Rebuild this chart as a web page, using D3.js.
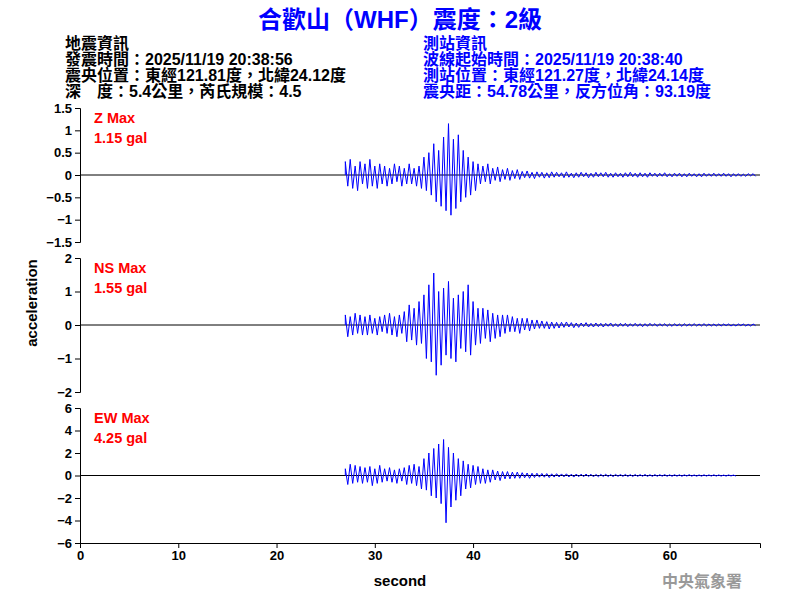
<!DOCTYPE html>
<html><head><meta charset="utf-8">
<script src="https://cdn.jsdelivr.net/npm/d3@7"></script>
<style>body{margin:0;background:#fff}text{font-family:Arial,"Liberation Sans","Noto Sans CJK TC",sans-serif}</style>
</head><body><svg id="c" width="800" height="600"></svg>
<script>
const startTime = 27, step = 0.25;
const zValues = [
.3,-.25,.35,-.3,.2,-.35,.3,-.2, .25,-.3,.35,-.25,.2,-.3,.25,-.2,
.2,-.25,.15,-.2,.25,-.15,.2,-.25, .15,-.2,.25,-.2,.15,-.25,.2,-.3,
.4,-.35,.5,-.45,.7,-.6,.55,-.7, .85,-.8,1.15,-.9,.8,-.75,.9,-.6,
.55,-.5,.4,-.45,.3,-.35,.25,-.2, .2,-.15,.25,-.2,.15,-.12,.18,-.15,
.12,-.1,.15,-.12,.1,-.08,.12,-.1, .08,-.06,.09,-.07,.06,-.08,.07,-.05,
.06,-.07,.05,-.06,.07,-.05,.06,-.04, .05,-.06,.07,-.05,.04,-.06,.05,-.05,
.06,-.04,.05,-.06,.04,-.05,.06,-.04, .05,-.04,.06,-.05,.04,-.05,.05,-.04,
.04,-.05,.05,-.04,.06,-.04,.04,-.05, .05,-.04,.04,-.05,.05,-.03,.04,-.04,
.04,-.03,.05,-.04,.03,-.04,.04,-.03, .04,-.04,.03,-.04,.04,-.03,.03,-.04,
.03,-.04,.04,-.03,.03,-.03,.04,-.03, .03,-.03,.04,-.03,.03,-.04,.03,-.03,
.03,-.03,.02,-.03,.03,-.02,.03,-.03];
const nsValues = [
.3,-.35,.25,-.3,.35,-.25,.3,-.3, .25,-.3,.3,-.25,.2,-.3,.25,-.2,
.3,-.25,.35,-.3,.25,-.35,.3,-.25, .4,-.5,.6,-.45,.5,-.6,.7,-.55,
.9,-1.0,1.2,-1.1,1.55,-1.5,1.0,-1.2, 1.1,-.9,1.3,-1.0,.8,-1.1,.9,-.7,
1.0,-.8,1.2,-.9,.7,-.6,.5,-.55, .5,-.4,.45,-.5,.35,-.4,.3,-.35,
.3,-.25,.3,-.2,.25,-.2,.2,-.25, .2,-.15,.2,-.18,.15,-.12,.15,-.1,
.12,-.1,.1,-.12,.09,-.1,.08,-.09, .08,-.07,.09,-.06,.07,-.08,.06,-.07,
.06,-.05,.07,-.06,.05,-.06,.06,-.05, .05,-.06,.05,-.04,.06,-.05,.04,-.05,
.05,-.04,.05,-.05,.04,-.04,.05,-.04, .04,-.05,.04,-.04,.05,-.03,.04,-.04,
.04,-.03,.04,-.04,.03,-.04,.04,-.03, .03,-.04,.04,-.03,.03,-.03,.04,-.03,
.03,-.03,.04,-.03,.03,-.03,.03,-.03, .03,-.03,.03,-.02,.03,-.03,.02,-.03,
.03,-.02,.03,-.03,.02,-.03,.03,-.02];
const ewValues = [
.6,-.8,1.0,-.7,.9,-.6,.8,-.7, .7,-.6,.8,-.9,.6,-.7,.9,-.6,
.6,-.5,.7,-.6,.5,-.7,.6,-.5, .7,-.8,.9,-.7,1.0,-.9,.8,-1.2,
1.5,-1.3,2.0,-1.8,2.4,-2.0,2.8,-2.5, 3.2,-4.2,2.5,-2.8,2.0,-2.2,1.5,-1.8,
1.3,-1.2,1.0,-1.1,.9,-.8,.8,-.7, .6,-.7,.5,-.6,.5,-.4,.4,-.45,
.35,-.3,.35,-.3,.3,-.25,.3,-.25, .25,-.2,.22,-.25,.2,-.18,.2,-.15,
.18,-.15,.17,-.18,.15,-.14,.16,-.13, .14,-.12,.15,-.13,.12,-.14,.13,-.11,
.12,-.11,.13,-.1,.11,-.12,.1,-.11, .1,-.09,.11,-.1,.09,-.1,.1,-.08,
.09,-.08,.1,-.09,.08,-.09,.09,-.08, .08,-.07,.09,-.08,.07,-.08,.08,-.07,
.07,-.06,.08,-.07,.06,-.07,.07,-.06, .06,-.07,.06,-.05,.07,-.06,.05,-.06,
.05,-.06,.06,-.05,.05,-.05,.06,-.05, .05,-.05,.04,-.05,.05,-.04,.04,-.05];
const panels = [
 {name:"Z Max", peak:"1.15 gal", values:zValues, domain:[-1.5,1.5], ticks:[-1.5,-1,-0.5,0,0.5,1,1.5], top:108, bottom:242},
 {name:"NS Max", peak:"1.55 gal", values:nsValues, domain:[-2,2], ticks:[-2,-1,0,1,2], top:258, bottom:392},
 {name:"EW Max", peak:"4.25 gal", values:ewValues, domain:[-6,6], ticks:[-6,-4,-2,0,2,4,6], top:408, bottom:543}];
const xTicks = [0,10,20,30,40,50,60];
const infoLeft = ["地震資訊","發震時間：2025/11/19 20:38:56","震央位置：東經121.81度，北緯24.12度","深　度：5.4公里，芮氏規模：4.5"];
const infoRight = ["測站資訊","波線起始時間：2025/11/19 20:38:40","測站位置：東經121.27度，北緯24.14度","震央距：54.78公里，反方位角：93.19度"];

const svg = d3.select("#c");
const x = d3.scaleLinear().domain([0,69.2]).range([80,760]);
svg.append("text").attr("x",400).attr("y",28).attr("text-anchor","middle").attr("fill","#0000ff")
 .attr("font-size",24).attr("font-weight","bold").text("合歡山（WHF）震度：2級");
infoLeft.forEach((t,i)=>svg.append("text").attr("x",65).attr("y",49+i*16).attr("font-size",16).attr("font-weight","bold").attr("fill","#000").text(t));
infoRight.forEach((t,i)=>svg.append("text").attr("x",423).attr("y",49+i*16).attr("font-size",16).attr("font-weight","bold").attr("fill","#0000ff").text(t));

panels.forEach((p,pi)=>{
  const y = d3.scaleLinear().domain(p.domain).range([p.bottom,p.top]);
  const g = svg.append("g");
  const ax = g.append("g").attr("transform","translate(80,0)").call(d3.axisLeft(y).tickValues(p.ticks).tickSize(5).tickFormat(d3.format("")));
  ax.selectAll("text").attr("font-size",13).attr("font-weight","bold").attr("fill","#000");
  ax.selectAll("path,line").attr("stroke","#000");
  g.append("line").attr("x1",80).attr("x2",760).attr("y1",y(0)).attr("y2",y(0)).attr("stroke","#000").attr("stroke-width",1);
  const pts = [[startTime,0]].concat(p.values.map((v,i)=>[startTime+i*step,v]));
  g.append("path").attr("d",d3.line().x(d=>x(d[0])).y(d=>y(d[1]))(pts)).attr("fill","none").attr("stroke","#0000ff").attr("stroke-width",1);
  g.append("text").attr("x",94).attr("y",p.top+15).attr("fill","#ff0000").attr("font-size",14.5).attr("font-weight","bold").text(p.name);
  g.append("text").attr("x",94).attr("y",p.top+35).attr("fill","#ff0000").attr("font-size",14.5).attr("font-weight","bold").text(p.peak);
});
const xa = svg.append("g").attr("transform","translate(0,543)").call(d3.axisBottom(x).tickValues(xTicks).tickSize(5).tickFormat(d3.format("")));
xa.selectAll("text").attr("font-size",13).attr("font-weight","bold").attr("fill","#000");
xa.selectAll("path,line").attr("stroke","#000");
svg.append("text").attr("x",400).attr("y",586).attr("text-anchor","middle").attr("font-size",15).attr("font-weight","bold").text("second");
svg.append("text").attr("transform","translate(37,303) rotate(-90)").attr("text-anchor","middle").attr("font-size",15).attr("font-weight","bold").text("acceleration");
svg.append("text").attr("x",702).attr("y",587).attr("text-anchor","middle").attr("font-size",16).attr("font-weight","bold").attr("fill","#999").attr("font-family","'Noto Serif CJK TC','Noto Sans CJK TC',serif").text("中央氣象署");
</script></body></html>
